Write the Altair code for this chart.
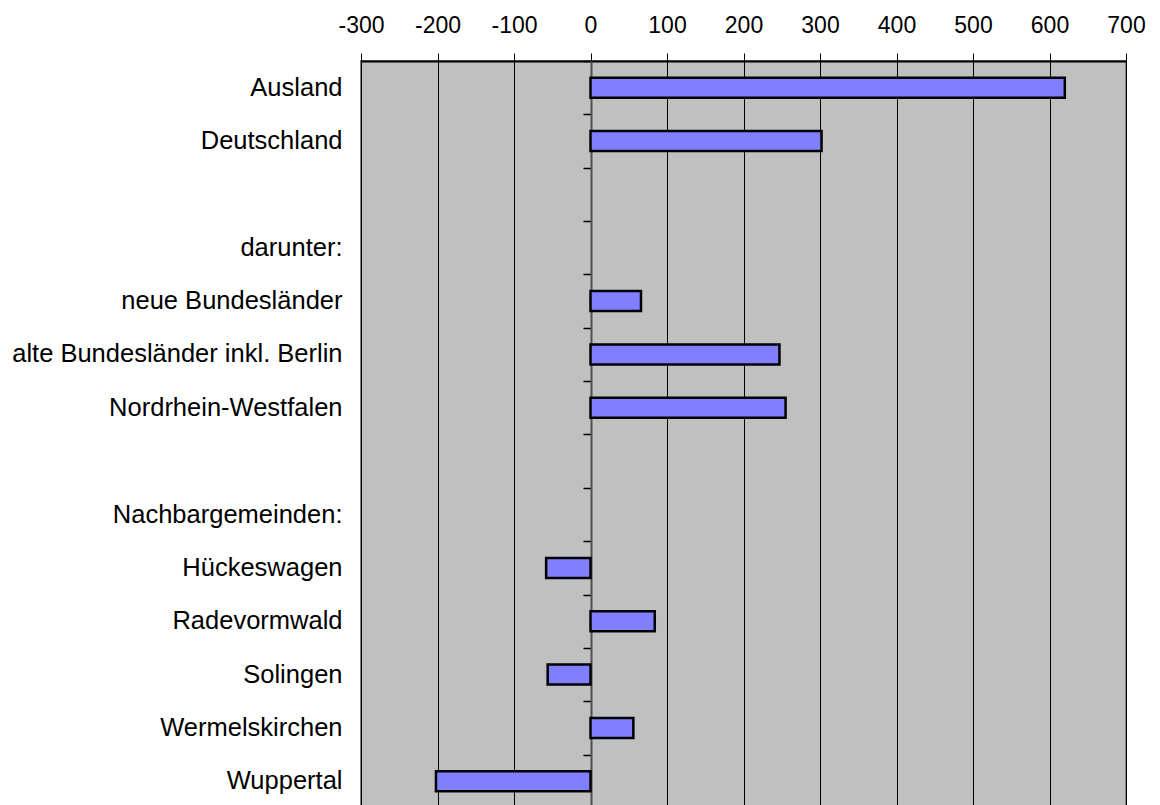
import altair as alt
import pandas as pd

categories = [
    "Ausland", "Deutschland", " ", "darunter:", "neue Bundesländer",
    "alte Bundesländer inkl. Berlin", "Nordrhein-Westfalen", "  ",
    "Nachbargemeinden:", "Hückeswagen", "Radevormwald", "Solingen",
    "Wermelskirchen", "Wuppertal",
]
values = [620, 302, None, None, 66, 247, 255, None, None, -58, 84, -56, 56, -202]
x_ticks = [-300, -200, -100, 0, 100, 200, 300, 400, 500, 600, 700]

df = pd.DataFrame({"cat": categories, "val": values})

FONT = "Liberation Sans"

yscale = alt.Scale(domain=categories, paddingInner=0, paddingOuter=0)
xscale = alt.Scale(domain=[-300, 700], nice=False, zero=False)

x_axis = alt.Axis(orient="top", values=x_ticks, grid=True,
                  gridColor="black", gridWidth=1, gridOpacity=1,
                  domainColor="black", domainWidth=2,
                  tickColor="black", tickSize=8, tickWidth=1,
                  labelPadding=16, labelFontSize=23, labelFont=FONT,
                  labelColor="black", labelFlush=False,
                  labelExpr="'' + datum.value")

bars = alt.Chart(df).mark_bar(
    size=20, color="#8080FF", stroke="black", strokeWidth=2.5
).encode(
    x=alt.X("val:Q", scale=xscale, title=None, axis=x_axis),
    y=alt.Y("cat:N", scale=yscale, sort=categories, title=None,
            axis=alt.Axis(orient="left", ticks=False, domain=False,
                          labelPadding=19, labelFontSize=25.5, labelFont=FONT,
                          labelColor="black", labelLimit=400)),
)

zero_axis = alt.Chart(df).mark_tick(opacity=0).encode(
    x=alt.X("val:Q", scale=xscale, title=None, axis=x_axis),
    y=alt.Y("cat:N", scale=yscale, sort=categories, title=None,
            axis=alt.Axis(orient="left", offset=-230, labels=False,
                          tickBand="extent", tickSize=8, tickColor="black",
                          tickWidth=1.5, domainColor="#505050",
                          domainWidth=2, grid=False)),
)

chart = alt.layer(bars, zero_axis).resolve_axis(y="independent").properties(
    width=765, height=747,
    autosize=alt.AutoSizeParams(type="none"),
    padding={"left": 353, "top": 53, "right": 26, "bottom": 0},
).configure_view(
    fill="#C0C0C0", stroke="#808080", strokeWidth=2
)

chart.save("out.html", embed_options={"renderer": "svg", "actions": False})
